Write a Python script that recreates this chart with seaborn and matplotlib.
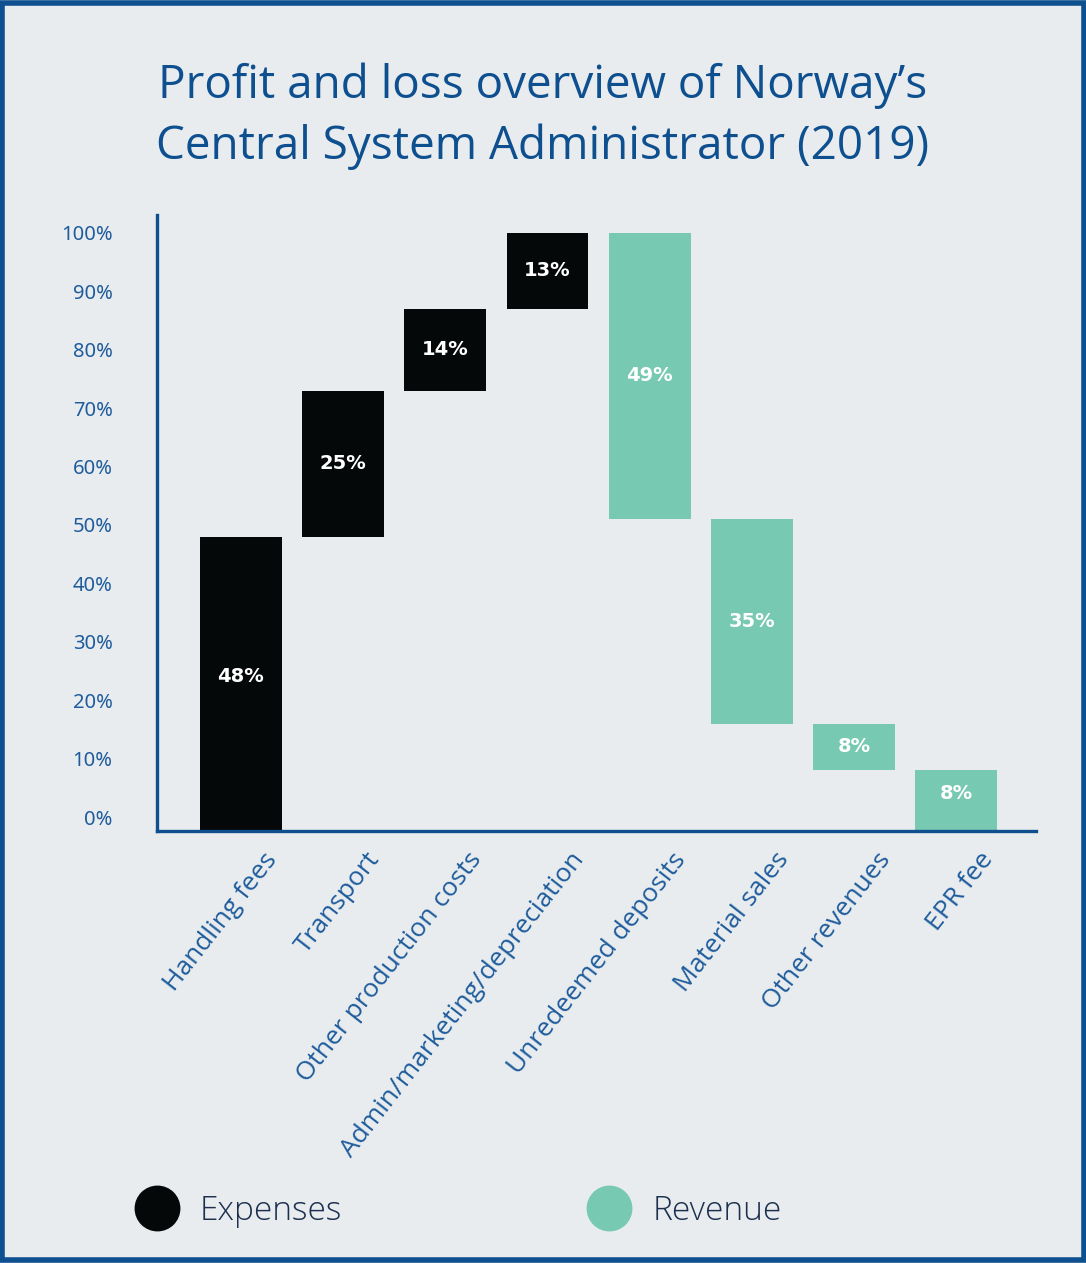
import matplotlib
matplotlib.use("Agg")
import matplotlib.pyplot as plt
import matplotlib.transforms as mtransforms
from matplotlib.lines import Line2D
from matplotlib.patches import Rectangle
import seaborn as sb
import pandas as pd

# DATA
# -----------------------------

categories = ["Handling fees", "Transport", "Other production costs", "Admin/marketing/depreciation",
              "Unredeemed deposits", "Material sales", "Other revenues", "EPR fee"]
shares = [48, 25, 14, 13, 49, 35, 8, 8]
groups = ["Expenses", "Expenses", "Expenses", "Expenses", "Revenue", "Revenue", "Revenue", "Revenue"]
y_ticks = [0, 10, 20, 30, 40, 50, 60, 70, 80, 90, 100]
y_tick_labels = ["0%", "10%", "20%", "30%", "40%", "50%", "60%", "70%", "80%", "90%", "100%"]

BLUE = "#0d4f8f"
BG = "#e8ecee"
COLORS = {"Expenses": "#050808", "Revenue": "#77c9b1"}

# waterfall: expenses stack up from 0, revenue steps down from 100
bottoms, tops = [], []
level_up, level_down = 0, 100
for s, g in zip(shares, groups):
    if g == "Expenses":
        bottoms.append(level_up)
        tops.append(level_up + s)
        level_up += s
    else:
        tops.append(level_down)
        bottoms.append(level_down - s)
        level_down -= s

df = pd.DataFrame({"category": categories, "share": shares, "group": groups,
                   "bottom": bottoms, "top": tops})

# PLOT
# -----------------------------

fig = plt.figure(figsize=(10.86, 12.63), dpi=100, facecolor=BG)
ax = fig.add_axes([0.1446, 0.342, 0.8094, 0.488])
ax.set_facecolor(BG)

sb.barplot(data=df, x="category", y="top", hue="group", palette=COLORS, dodge=False,
           width=0.8, linewidth=0, saturation=1, legend=False, ax=ax)

ax.set_xlim(-0.82, 7.78)
ax.set_ylim(-2.4, 103.1)
floor = ax.get_ylim()[0]

for p in ax.patches:
    i = int(round(p.get_x() + p.get_width() / 2))
    b = df["bottom"][i] if df["bottom"][i] > 0 else floor
    p.set_y(b)
    p.set_height(df["top"][i] - b)
    ax.text(i, (df["bottom"][i] + df["top"][i]) / 2, f"{df['share'][i]}%", ha="center", va="center",
            color="white", fontsize=14, fontweight="bold", family="DejaVu Sans")

for side in ["top", "right"]:
    ax.spines[side].set_visible(False)
for side in ["left", "bottom"]:
    ax.spines[side].set_color(BLUE)
    ax.spines[side].set_linewidth(2.4)

ax.set_yticks(y_ticks)
ax.set_yticklabels(y_tick_labels, color="#1f5c9c", fontsize=14.5, family="Noto Sans")
ax.tick_params(axis="y", length=0, pad=32)
ax.set_xticks(range(len(categories)))
ax.set_xticklabels(categories, rotation=52, ha="right", rotation_mode="anchor",
                   color="#1f5c9c", fontsize=19, family="Open Sans")
ax.tick_params(axis="x", length=0, pad=12)
offset = mtransforms.ScaledTranslation(16 / 72, 0, fig.dpi_scale_trans)
for lbl in ax.get_xticklabels():
    lbl.set_transform(lbl.get_transform() + offset)
ax.set_xlabel("")
ax.set_ylabel("")

fig.text(0.5, 0.908, "Profit and loss overview of Norway’s\nCentral System Administrator (2019)",
         ha="center", va="center", color=BLUE, fontsize=33, family="Open Sans", linespacing=1.42)

handles = [Line2D([], [], marker="o", linestyle="", markersize=32, color=COLORS[g]) for g in COLORS]
fig.legend(handles, list(COLORS), loc="center left", bbox_to_anchor=(0.086, 0.041), ncol=2,
           frameon=False, handletextpad=0.3, columnspacing=7.0,
           prop={"family": "Open Sans", "size": 24, "weight": "light"}, labelcolor="#1c2f4f")

fig.add_artist(Rectangle((0.002, 0.002), 0.996, 0.996, transform=fig.transFigure,
                         fill=False, edgecolor=BLUE, linewidth=4))

fig.savefig("out.png", dpi=100, facecolor=BG)
